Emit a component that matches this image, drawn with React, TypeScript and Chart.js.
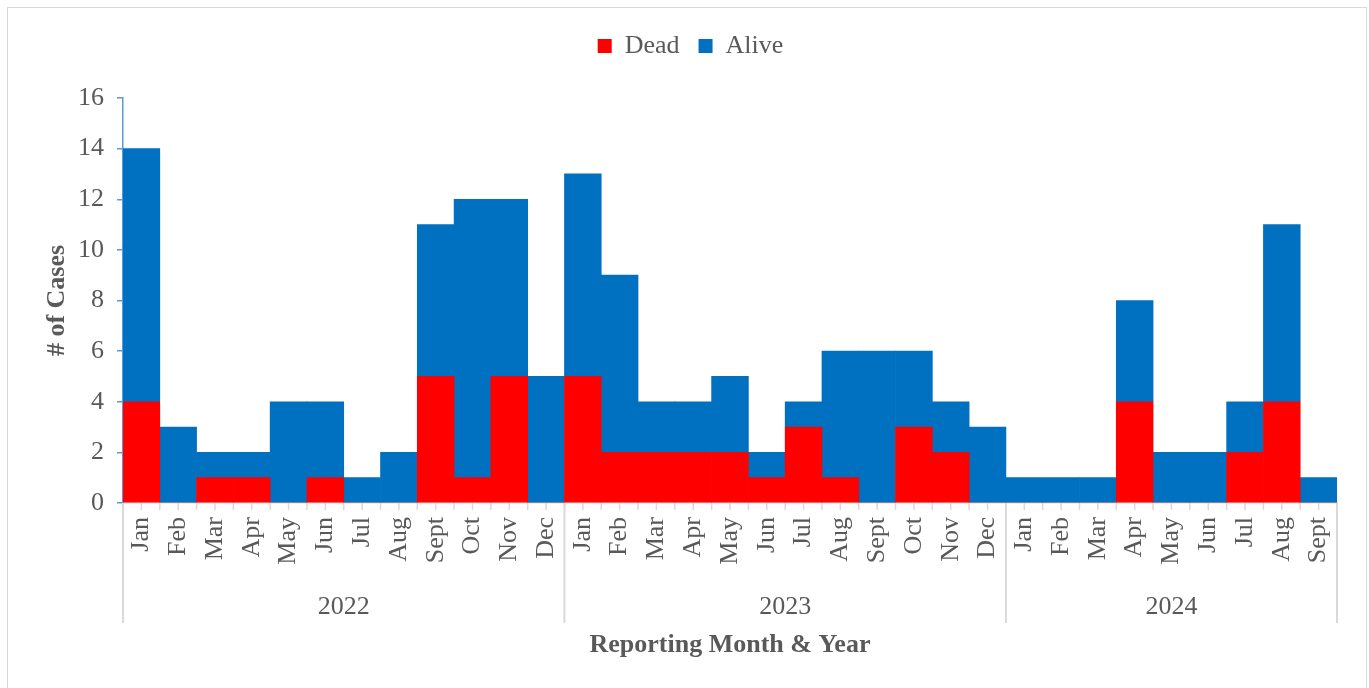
import React, { useEffect, useRef } from "react";
import { Chart, registerables } from "chart.js";

Chart.register(...registerables);

const months = [
  "Jan", "Feb", "Mar", "Apr", "May", "Jun", "Jul", "Aug", "Sept", "Oct", "Nov", "Dec",
  "Jan", "Feb", "Mar", "Apr", "May", "Jun", "Jul", "Aug", "Sept", "Oct", "Nov", "Dec",
  "Jan", "Feb", "Mar", "Apr", "May", "Jun", "Jul", "Aug", "Sept",
];
const years = ["2022", "2023", "2024"];
const monthsPerYear = [12, 12, 9];
const dead = [4, 0, 1, 1, 0, 1, 0, 0, 5, 1, 5, 0, 5, 2, 2, 2, 2, 1, 3, 1, 0, 3, 2, 0, 0, 0, 0, 4, 0, 0, 2, 4, 0];
const alive = [10, 3, 1, 1, 4, 3, 1, 2, 6, 11, 7, 5, 8, 7, 2, 2, 3, 1, 1, 5, 6, 3, 2, 3, 1, 1, 1, 4, 2, 2, 2, 7, 1];
const yTicks = [0, 2, 4, 6, 8, 10, 12, 14, 16];

const FONT = '"Liberation Serif", "Times New Roman", serif';
const TEXT = "#595959";
const LIGHT = "#d9d9d9";
const AXISBLUE = "#5b9bd5";

const legendSpacer = {
  id: "legendSpacer",
  afterInit(chart: any) {
    const lg = chart.legend;
    if (!lg) return;
    const fit = lg.fit.bind(lg);
    lg.fit = () => {
      fit();
      lg.height += 29;
    };
  },
  afterLayout(chart: any) {
    const lg = chart.legend;
    if (!lg) return;
    lg.left += 18;
    lg.right += 18;
  },
};

const multiLevel = {
  id: "multiLevel",
  afterDraw(chart: any) {
    const { ctx, chartArea } = chart;
    const x = chart.scales.x;
    const bottom = chartArea.bottom;
    const half = (x.getPixelForValue(1) - x.getPixelForValue(0)) / 2;
    ctx.save();
    ctx.strokeStyle = LIGHT;
    ctx.lineWidth = 1.5;
    ctx.beginPath();
    for (let i = 0; i < months.length; i++) {
      const c = x.getPixelForValue(i);
      for (const px of [c - half, c]) {
        ctx.moveTo(px, bottom);
        ctx.lineTo(px, bottom + 7);
      }
    }
    ctx.stroke();
    let idx = 0;
    const bounds = [0];
    monthsPerYear.forEach((c) => {
      idx += c;
      bounds.push(idx);
    });
    ctx.lineWidth = 2;
    ctx.beginPath();
    bounds.forEach((b) => {
      const px = x.getPixelForValue(b) - half;
      ctx.moveTo(px, bottom);
      ctx.lineTo(px, bottom + 120);
    });
    ctx.stroke();
    ctx.font = `26px ${FONT}`;
    ctx.fillStyle = TEXT;
    ctx.textAlign = "center";
    ctx.textBaseline = "middle";
    years.forEach((yr, i) => {
      const l = x.getPixelForValue(bounds[i]) - half;
      const r = x.getPixelForValue(bounds[i + 1]) - half;
      ctx.fillText(yr, (l + r) / 2, bottom + 104);
    });
    ctx.restore();
  },
};

export default function App() {
  const ref = useRef<HTMLCanvasElement | null>(null);
  useEffect(() => {
    if (!ref.current) return;
    const chart = new Chart(ref.current, {
      type: "bar",
      data: {
        labels: months,
        datasets: [
          {
            label: "Dead",
            data: dead,
            backgroundColor: "#ff0000",
            borderWidth: 0,
            categoryPercentage: 1,
            barPercentage: 1,
          },
          {
            label: "Alive",
            data: alive,
            backgroundColor: "#0070c0",
            borderWidth: 0,
            categoryPercentage: 1,
            barPercentage: 1,
          },
        ],
      },
      options: {
        responsive: false,
        animation: false,
        layout: { padding: { top: 6, right: 29, bottom: 0, left: 0 } },
        plugins: {
          legend: {
            position: "top",
            labels: {
              boxWidth: 14,
              boxHeight: 14,
              padding: 19,
              color: TEXT,
              font: { family: FONT, size: 26 },
              generateLabels: (chart: any) =>
                chart.data.datasets.map((ds: any, i: number) => ({
                  text: ds.label,
                  fillStyle: ds.backgroundColor,
                  strokeStyle: ds.backgroundColor,
                  lineWidth: 0,
                  fontColor: TEXT,
                  hidden: false,
                  datasetIndex: i,
                })),
            },
          },
          tooltip: { enabled: false },
        },
        scales: {
          x: {
            stacked: true,
            grid: { display: false, drawTicks: false },
            border: { display: true, color: LIGHT, width: 1.5 },
            ticks: {
              autoSkip: false,
              minRotation: 90,
              maxRotation: 90,
              padding: 14,
              color: TEXT,
              font: { family: FONT, size: 26 },
            },
            title: {
              display: true,
              text: "Reporting Month & Year",
              color: TEXT,
              font: { family: FONT, size: 26, weight: "bold" },
              padding: { top: 0, bottom: 27 },
            },
            afterFit: (s: any) => {
              s.height = 185;
            },
          },
          y: {
            stacked: true,
            min: 0,
            max: 16,
            afterBuildTicks: (s: any) => {
              s.ticks = yTicks.map((v) => ({ value: v }));
            },
            grid: { display: true, drawOnChartArea: false, drawTicks: true, tickLength: 6, color: AXISBLUE, lineWidth: 1.5 },
            border: { display: true, color: AXISBLUE, width: 1.5 },
            ticks: { padding: 13, color: TEXT, font: { family: FONT, size: 26 } },
            title: {
              display: true,
              text: "# of Cases",
              color: TEXT,
              font: { family: FONT, size: 26, weight: "bold" },
              padding: { top: 34, bottom: 0 },
            },
            afterFit: (s: any) => {
              s.width = 115;
            },
          },
        },
      },
      plugins: [legendSpacer, multiLevel],
    } as any);
    return () => chart.destroy();
  }, []);
  return (
    <div
      style={{
        position: "absolute",
        left: 7,
        top: 7,
        width: 1358,
        height: 680,
        border: `1px solid ${LIGHT}`,
        background: "#fff",
      }}
    >
      <canvas ref={ref} width={1358} height={680} style={{ display: "block" }} />
    </div>
  );
}
